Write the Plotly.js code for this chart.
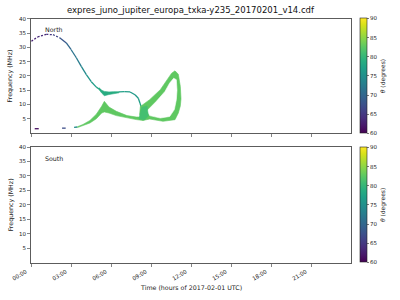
<!DOCTYPE html>
<html><head><meta charset="utf-8">
<script src="https://cdn.plot.ly/plotly-3.0.1.min.js"></script>
<style>html,body{margin:0;padding:0;background:#fff}#plot{width:400px;height:300px}</style>
</head><body><div id="plot"></div>
<script>
// ---- data (hours, MHz, degrees) ----
const hourTicks = [0, 3, 6, 9, 12, 15, 18, 21];
const hourLabels = ['00:00', '03:00', '06:00', '09:00', '12:00', '15:00', '18:00', '21:00'];
const freqTicks = [5, 10, 15, 20, 25, 30, 35, 40];
const thetaTicks = [60, 65, 70, 75, 80, 85, 90];

// North: upper thin ridge
const upperT = [0.03, 0.5, 1.15, 1.65, 2.15, 2.65, 3.0, 3.4, 3.77, 4.15, 4.52, 4.9, 5.27];
const upperF = [32.2, 33.7, 34.6, 34.5, 33.4, 31.6, 29.3, 26.4, 23.4, 20.5, 18.0, 16.1, 14.9];
const upperTheta = [63, 63, 64, 65, 67, 69, 71, 72, 73, 75, 76, 77, 78];
// North: thick part of upper ridge
const bandT = [5.1, 5.3, 5.5, 5.85, 6.2, 6.6];
const bandLo = [15.3, 14.0, 13.1, 13.5, 13.9, 14.1];
const bandHi = [15.9, 15.0, 14.6, 14.4, 14.5, 14.5];
// North: thin ridge descending into the loop
const midT = [6.6, 7.0, 7.43, 7.8, 8.05, 8.17, 8.3];
const midF = [14.4, 14.5, 14.4, 13.4, 12.2, 10.5, 8.7];
const midTheta = [77, 77, 76, 76, 76, 77, 78];
// North: low-frequency start dashes (pairs)
const lowStartT = [0.28, 0.58, 2.33, 2.6, 3.23, 3.48];
const lowStartF = [1.5, 1.5, 1.7, 1.7, 2.0, 2.1];
const lowStartTheta = [61, 61, 67, 67, 74, 74];
// North: lower band
const lowBandT = [3.48, 3.9, 4.42, 4.9, 5.3, 5.5, 5.85, 6.4, 7.2, 7.9, 8.4];
const lowBandHi = [2.2, 3.0, 4.4, 6.6, 9.4, 11.1, 9.1, 7.6, 6.1, 5.6, 5.6];
const lowBandLo = [1.9, 2.5, 3.5, 5.0, 7.0, 7.4, 7.0, 6.1, 5.25, 4.7, 4.4];
// North: loop outer and inner boundaries
const loopOuterT = [8.2, 8.9, 9.7, 10.2, 10.55, 10.8, 11.05, 11.2, 11.25, 11.2, 11.05, 10.8, 9.9, 8.9, 8.4, 8.15];
const loopOuterF = [9.3, 11.7, 15.2, 18.7, 21.0, 21.8, 20.6, 16.3, 12.0, 9.5, 7.0, 4.67, 4.1, 4.9, 4.4, 6.5];
const loopInnerT = [8.7, 9.4, 10.05, 10.4, 10.7, 10.9, 10.95, 10.9, 10.75, 10.4, 9.7, 8.9];
const loopInnerF = [7.8, 11.1, 14.6, 17.5, 19.2, 18.7, 15.0, 11.7, 8.2, 5.8, 5.25, 6.1];
const bandTheta = 78.5;
const lowBandTheta = 82.5;
const crossT = [8.1, 8.5, 8.8, 8.7, 8.3];
const crossF = [5.0, 4.6, 6.0, 9.5, 9.0];
const crossTheta = 81;
// South: no emission (placeholder point carries only the colour scale)
const southT = [null];
const southF = [null];
const southTheta = [75];

// ---- helpers ----
const VIR = ['#440154','#482475','#414487','#355f8d','#2a788e','#21918c','#22a884','#44bf70','#7ad151','#bddf26','#fde725'];
function hex2rgb(h){return [parseInt(h.slice(1,3),16),parseInt(h.slice(3,5),16),parseInt(h.slice(5,7),16)];}
function viridis(theta){
  let v = Math.max(0, Math.min(1, (theta - 60) / 30)) * 10;
  let i = Math.min(9, Math.floor(v)), f = v - i;
  let a = hex2rgb(VIR[i]), b = hex2rgb(VIR[i+1]);
  return 'rgb(' + a.map((c,k)=>Math.round(c + (b[k]-c)*f)).join(',') + ')';
}
const traces = [];
function segLine(ts, fs, th, step, dashFn){
  for (let i = 0; i + 1 < ts.length; i += step){
    const m = (th[i] + th[i+1]) / 2;
    traces.push({x:[ts[i], ts[i+1]], y:[fs[i], fs[i+1]], mode:'lines', xaxis:'x', yaxis:'y',
      line:{color: viridis(m), width: 1.3, dash: dashFn ? dashFn(m) : 'solid'}, hoverinfo:'skip', showlegend:false});
  }
}
function band(ts, lo, hi, theta){
  traces.push({x: ts.concat(ts.slice().reverse()), y: hi.concat(lo.slice().reverse()), mode:'lines', fill:'toself',
    fillcolor: viridis(theta), line:{color: viridis(theta), width: 0.6}, xaxis:'x', yaxis:'y', hoverinfo:'skip', showlegend:false});
}
function poly(ts, fs, color){
  traces.push({x: ts.concat([ts[0]]), y: fs.concat([fs[0]]), mode:'lines', fill:'toself', fillcolor: color,
    line:{color: color, width: 0.6}, xaxis:'x', yaxis:'y', hoverinfo:'skip', showlegend:false});
}

segLine(upperT, upperF, upperTheta, 1, m => m < 68 ? '2px,1.5px' : 'solid');
band(bandT, bandLo, bandHi, bandTheta);
segLine(midT, midF, midTheta, 1, null);
segLine(lowStartT, lowStartF, lowStartTheta, 2, null);
band(lowBandT, lowBandLo, lowBandHi, lowBandTheta);
poly(loopOuterT, loopOuterF, viridis(lowBandTheta));
poly(loopInnerT, loopInnerF, '#ffffff');
poly(crossT, crossF, viridis(crossTheta));

const cbCommon = {thickness: 7, len: 0.383, lenmode: 'fraction', x: 0.9, xanchor: 'left', xpad: 0, ypad: 0,
  outlinewidth: 0.6, outlinecolor: '#222', ticks: 'outside', ticklen: 2, tickwidth: 0.6, tickcolor: '#222',
  tickvals: thetaTicks, tickfont: {family: 'DejaVu Sans', size: 5.5, color: '#222'},
  title: {text: '<i>θ</i> (degrees)', side: 'right', font: {family: 'DejaVu Sans', size: 6, color: '#222'}}};

traces.push({x: upperT, y: upperF, mode: 'markers', xaxis: 'x', yaxis: 'y', hoverinfo: 'skip', showlegend: false,
  marker: {size: 1, opacity: 0, color: upperTheta, colorscale: 'Viridis', cmin: 60, cmax: 90, showscale: true,
    colorbar: Object.assign({}, cbCommon, {y: 0.7467, yanchor: 'middle'})}});
traces.push({x: southT, y: southF, mode: 'markers', xaxis: 'x2', yaxis: 'y2', hoverinfo: 'skip', showlegend: false,
  marker: {size: 1, opacity: 0, color: southTheta, colorscale: 'Viridis', cmin: 60, cmax: 90, showscale: true,
    colorbar: Object.assign({}, cbCommon, {y: 0.317, yanchor: 'middle'})}});

const tickFont = {family: 'DejaVu Sans', size: 5.5, color: '#222'};
function xax(showLabels, anchor){
  return {domain: [0.0775, 0.8775], range: [0, 24], anchor: anchor, tickmode: 'array', tickvals: hourTicks,
    ticktext: hourLabels, showticklabels: showLabels, tickangle: -30, ticklabelshift: -5, ticks: 'outside', ticklen: 3, tickwidth: 0.6,
    tickcolor: '#333', showgrid: false, zeroline: false, showline: true, mirror: true, linecolor: '#333', linewidth: 0.8,
    tickfont: tickFont, fixedrange: true};
}
function yax(domain, anchor){
  return {domain: domain, range: [0, 40], anchor: anchor, tickmode: 'array', tickvals: freqTicks, ticks: 'outside',
    ticklen: 3, tickwidth: 0.6, tickcolor: '#333', showgrid: false, zeroline: false, showline: true, mirror: true,
    linecolor: '#333', linewidth: 0.8, tickfont: tickFont, fixedrange: true};
}
const annFont = {family: 'DejaVu Sans', size: 6.3, color: '#222'};
const layout = {
  width: 400, height: 300, margin: {l: 0, r: 0, t: 0, b: 0}, paper_bgcolor: '#fff', plot_bgcolor: '#fff',
  showlegend: false,
  xaxis: xax(false, 'y'), yaxis: yax([0.5567, 0.9367], 'x'),
  xaxis2: xax(true, 'y2'), yaxis2: yax([0.1243, 0.51], 'x2'),
  annotations: [
    {text: 'expres_juno_jupiter_europa_txka-y235_20170201_v14.cdf', xref: 'paper', yref: 'paper', x: 0.4775, y: 0.9667,
      xanchor: 'center', yanchor: 'middle', showarrow: false, font: {family: 'DejaVu Sans', size: 8.5, color: '#111'}},
    {text: 'North', xref: 'paper', yref: 'paper', x: 0.1075, y: 0.9, xanchor: 'left', yanchor: 'middle', showarrow: false, font: annFont},
    {text: 'South', xref: 'paper', yref: 'paper', x: 0.1075, y: 0.473, xanchor: 'left', yanchor: 'middle', showarrow: false, font: annFont},
    {text: 'Frequency (MHz)', xref: 'paper', yref: 'paper', x: 0.026, y: 0.7467, xanchor: 'center', yanchor: 'middle', textangle: -90, showarrow: false, font: annFont},
    {text: 'Frequency (MHz)', xref: 'paper', yref: 'paper', x: 0.026, y: 0.317, xanchor: 'center', yanchor: 'middle', textangle: -90, showarrow: false, font: annFont},
    {text: 'Time (hours of 2017-02-01 UTC)', xref: 'paper', yref: 'paper', x: 0.4775, y: 0.0433, xanchor: 'center', yanchor: 'middle', showarrow: false, font: annFont}
  ]
};
Plotly.newPlot('plot', traces, layout, {displayModeBar: false, staticPlot: true});
</script></body></html>
